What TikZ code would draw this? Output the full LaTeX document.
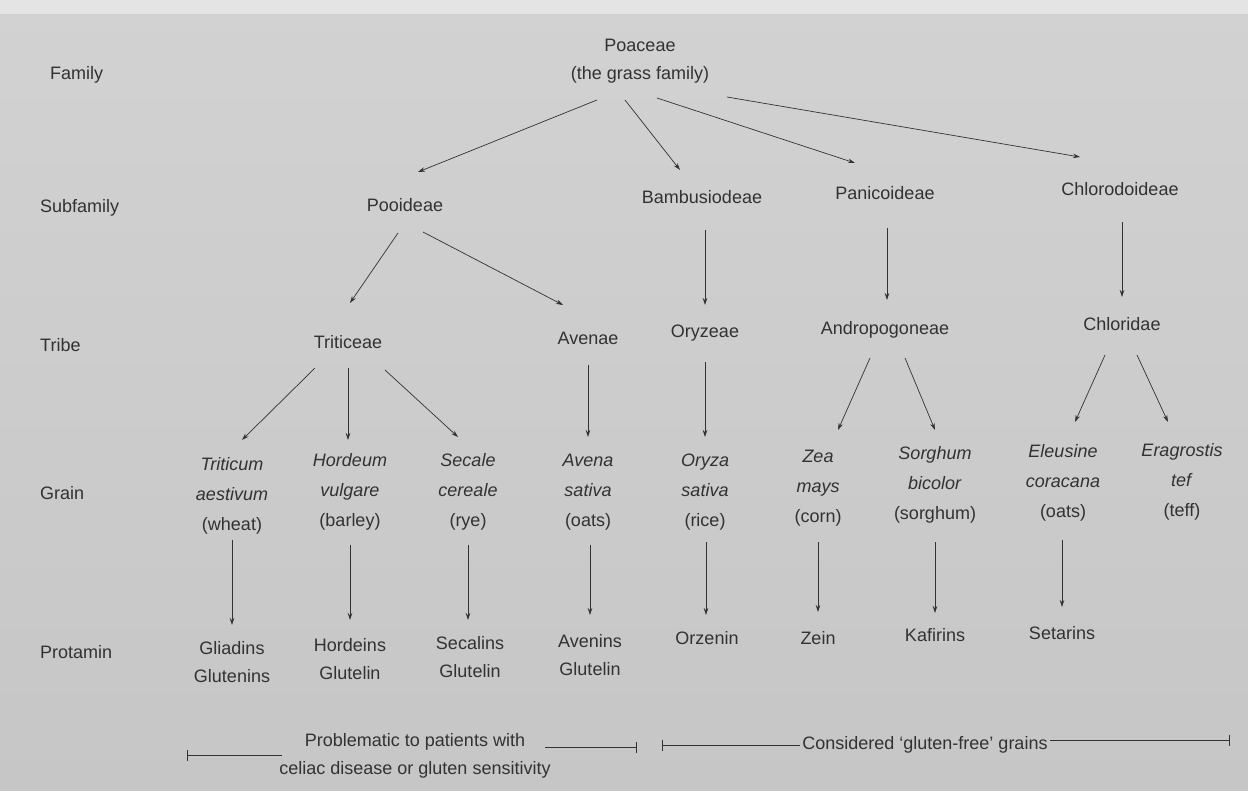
\documentclass[tikz,border=0pt]{standalone}
\usepackage{fontspec}
\setmainfont{Liberation Sans}
\usetikzlibrary{arrows.meta}
\definecolor{bgupper}{RGB}{210,210,210}
\definecolor{bglower}{RGB}{198,198,198}
\definecolor{bgtop}{RGB}{228,228,228}
\definecolor{ink}{RGB}{50,50,50}
\begin{document}
\begin{tikzpicture}[x=1pt,y=-1pt,
  every node/.style={text=ink, align=center, inner sep=0pt, font=\fontsize{18}{28}\selectfont},
  lbl/.style={anchor=west},
  grain/.style={font=\fontsize{18}{30}\selectfont},
  arr/.style={draw=ink, line width=0.7pt, -{Stealth[length=7pt,width=4.5pt]}},
  brk/.style={draw=ink, line width=0.8pt}]
\shade[top color=bgupper, bottom color=bglower] (0,0) rectangle (1248,791);
\fill[bgtop] (0,0) rectangle (1248,14);
\useasboundingbox (0,0) rectangle (1248,791);

% row labels
\node[lbl] (lfam) at (50,75) {Family};
\node[lbl] (lsub) at (40,208) {Subfamily};
\node[lbl] (ltri) at (40,345) {Tribe};
\node[lbl] (lgra) at (40,493) {Grain};
\node[lbl] (lpro) at (40,652) {Protamin};

% family
\node (poa) at (640,61) {Poaceae\\(the grass family)};

% subfamilies
\node (pooid) at (405,205) {Pooideae};
\node (bamb) at (702,197) {Bambusiodeae};
\node (panic) at (885,193) {Panicoideae};
\node (chloro) at (1120,189) {Chlorodoideae};

% tribes
\node (trit) at (348,342) {Triticeae};
\node (aven) at (588,338) {Avenae};
\node (oryz) at (705,333) {Oryzeae};
\node (andro) at (885,330) {Andropogoneae};
\node (chlorid) at (1122,324) {Chloridae};

% grains
\node[grain] (triti) at (232,496) {\textit{Triticum}\\\textit{aestivum}\\(wheat)};
\node[grain] (hord) at (350,492) {\textit{Hordeum}\\\textit{vulgare}\\(barley)};
\node[grain] (sec) at (468,492) {\textit{Secale}\\\textit{cereale}\\(rye)};
\node[grain] (avena) at (588,492) {\textit{Avena}\\\textit{sativa}\\(oats)};
\node[grain] (oryza) at (705,492) {\textit{Oryza}\\\textit{sativa}\\(rice)};
\node[grain] (zea) at (818,488) {\textit{Zea}\\\textit{mays}\\(corn)};
\node[grain] (sorg) at (935,485) {\textit{Sorghum}\\\textit{bicolor}\\(sorghum)};
\node[grain] (eleu) at (1063,483) {\textit{Eleusine}\\\textit{coracana}\\(oats)};
\node[grain] (erag) at (1182,482) {\textit{Eragrostis}\\\textit{tef}\\(teff)};

% protamins
\node (gli) at (232,662) {Gliadins\\Glutenins};
\node (hordn) at (350,659) {Hordeins\\Glutelin};
\node (secn) at (470,657) {Secalins\\Glutelin};
\node (aveni) at (590,655) {Avenins\\Glutelin};
\node (orz) at (707,638) {Orzenin};
\node (zein) at (818,638) {Zein};
\node (kaf) at (935,635) {Kafirins};
\node (setn) at (1062,633) {Setarins};

% bottom notes
\node (prob) at (415,756) {Problematic to patients with\\celiac disease or gluten sensitivity};
\node (gf) at (925,745) {Considered ‘gluten-free’ grains};

% arrows: family -> subfamily
\draw[arr] ([shift={(-43,39)}]poa.center) -- ([shift={(13,-33)}]pooid.center);
\draw[arr] ([shift={(-15,39)}]poa.center) -- ([shift={(-22,-27)}]bamb.center);
\draw[arr] ([shift={(17,37)}]poa.center) -- ([shift={(-30,-30)}]panic.center);
\draw[arr] ([shift={(87,36)}]poa.center) -- ([shift={(-40,-32)}]chloro.center);
% subfamily -> tribe
\draw[arr] ([shift={(-7,28)}]pooid.center) -- ([shift={(2,-39)}]trit.center);
\draw[arr] ([shift={(18,27)}]pooid.center) -- ([shift={(-25,-33)}]aven.center);
\draw[arr] ([shift={(3,33)}]bamb.center) -- ([shift={(0,-28)}]oryz.center);
\draw[arr] ([shift={(2,35)}]panic.center) -- ([shift={(2,-30)}]andro.center);
\draw[arr] ([shift={(2,33)}]chloro.center) -- ([shift={(0,-27)}]chlorid.center);
% tribe -> grain
\draw[arr] ([shift={(-33,26)}]trit.center) -- ([shift={(10,-56)}]triti.center);
\draw[arr] ([shift={(0,26)}]trit.center) -- ([shift={(-2,-52)}]hord.center);
\draw[arr] ([shift={(37,28)}]trit.center) -- ([shift={(-10,-55)}]sec.center);
\draw[arr] ([shift={(0,27)}]aven.center) -- ([shift={(0,-55)}]avena.center);
\draw[arr] ([shift={(0,29)}]oryz.center) -- ([shift={(0,-55)}]oryza.center);
\draw[arr] ([shift={(-15,28)}]andro.center) -- ([shift={(20,-58)}]zea.center);
\draw[arr] ([shift={(20,28)}]andro.center) -- ([shift={(0,-55)}]sorg.center);
\draw[arr] ([shift={(-17,31)}]chlorid.center) -- ([shift={(12,-61)}]eleu.center);
\draw[arr] ([shift={(15,31)}]chlorid.center) -- ([shift={(-14,-60)}]erag.center);
% grain -> protamin
\draw[arr] ([shift={(0,44)}]triti.center) -- ([shift={(0,-37)}]gli.center);
\draw[arr] ([shift={(0,53)}]hord.center) -- ([shift={(0,-39)}]hordn.center);
\draw[arr] ([shift={(0,53)}]sec.center) -- ([shift={(-2,-37)}]secn.center);
\draw[arr] ([shift={(2,53)}]avena.center) -- ([shift={(0,-40)}]aveni.center);
\draw[arr] ([shift={(1,50)}]oryza.center) -- ([shift={(-1,-23)}]orz.center);
\draw[arr] ([shift={(0,54)}]zea.center) -- ([shift={(0,-26)}]zein.center);
\draw[arr] ([shift={(0,57)}]sorg.center) -- ([shift={(0,-22)}]kaf.center);
\draw[arr] ([shift={(-1,57)}]eleu.center) -- ([shift={(0,-26)}]setn.center);

% brackets
\coordinate (b1a) at (187,755);
\coordinate (b1b) at (282,755);
\coordinate (b2a) at (545,747);
\coordinate (b2b) at (637,747);
\coordinate (b3a) at (662,745);
\coordinate (b3b) at (800,745);
\coordinate (b4a) at (1050,740);
\coordinate (b4b) at (1230,740);
\draw[brk, {Bar[width=11pt]}-] (b1a) -- (b1b);
\draw[brk, -{Bar[width=11pt]}] (b2a) -- (b2b);
\draw[brk, {Bar[width=11pt]}-] (b3a) -- (b3b);
\draw[brk, -{Bar[width=11pt]}] (b4a) -- (b4b);
\end{tikzpicture}
\end{document}
